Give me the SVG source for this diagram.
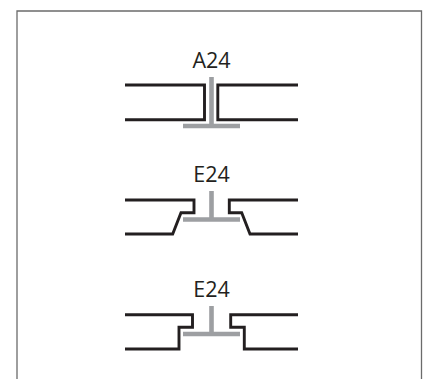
<svg xmlns="http://www.w3.org/2000/svg" width="427" height="379" viewBox="0 0 427 379">
<style>
.frame{fill:none;stroke:#6b6b6b;stroke-width:1.3}
.panel{fill:none;stroke:#231f20;stroke-width:2.9;stroke-linejoin:miter}
.tee{fill:none;stroke:#9d9fa2;stroke-width:4.6}
text{font-family:"Open Sans","Noto Sans","Liberation Sans",sans-serif;font-size:21.500px;fill:#231f20;text-anchor:middle}
</style>
<rect width="427" height="379" fill="#ffffff"/>
<path class="frame" d="M17 379V11H421.500V379"/>
<g id="a24">
<text x="211.500" y="67.500">A24</text>
<path class="tee" d="M211.500 77V126M183 126H240"/>
<path class="panel" d="M125 85H204.500V119.700H125M298 85H217.800V119.700H298"/>
</g>
<g id="e24-bevel">
<text x="211.500" y="182">E24</text>
<path class="tee" d="M211.500 191V219.500M183 219.500H240"/>
<path class="panel" d="M125 200H194V212.700H181L172.700 234H125M298 200H229.300V212.700H241.700L250 234H298"/>
</g>
<g id="e24-step">
<text x="211.500" y="296.500">E24</text>
<path class="tee" d="M211.500 306V334M183 334H240"/>
<path class="panel" d="M125 314.700H192.500V327.300H179V349H125M298 314.700H230.700V327.300H244.300V349H298"/>
</g>
</svg>
